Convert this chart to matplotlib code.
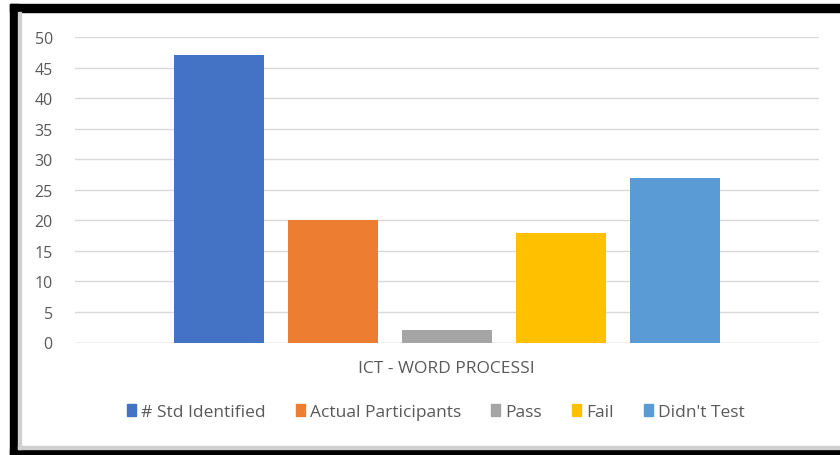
import matplotlib
matplotlib.use('Agg')
import matplotlib.pyplot as plt
import matplotlib.patches as mpatches

plt.rcParams['font.family'] = ['Open Sans', 'DejaVu Sans']

# Data
category = 'ICT - WORD PROCESSI'
series = ['# Std Identified', 'Actual Participants', 'Pass', 'Fail', "Didn't Test"]
values = [47, 20, 2, 18, 27]
colors = ['#4472C4', '#ED7D31', '#A5A5A5', '#FFC000', '#5B9BD5']
yticks = [0, 5, 10, 15, 20, 25, 30, 35, 40, 45, 50]

W, H = 840, 456
fig = plt.figure(figsize=(W / 100, H / 100), dpi=100)
fig.patch.set_facecolor('white')

# axes placed in pixel terms
ax = fig.add_axes([75 / W, 1 - 343.5 / H, (819 - 75) / W, (343.5 - 38) / H])
ax.set_facecolor('white')

x = list(range(len(series)))
ax.bar(x, values, width=0.79, color=colors, zorder=3)
ax.set_xlim(-1.263, 5.263)
ax.set_ylim(0, 50)
ax.set_yticks(yticks)
ax.set_xticks([])
ax.grid(axis='y', color='#D9D9D9', linewidth=1.0, zorder=0)
for s in ax.spines.values():
    s.set_visible(False)
ax.axhline(0, color='#D9D9D9', linewidth=1.0, zorder=2)
ax.tick_params(axis='y', length=0, pad=16, labelsize=11.5, labelcolor='#595959')

# category label
fig.text(446 / W, 1 - 369 / H, category, ha='center', va='center',
         fontsize=12.5, color='#595959')

# legend
handles = [mpatches.Patch(color=c, label=s) for s, c in zip(series, colors)]
leg = fig.legend(handles=handles, loc='center', bbox_to_anchor=(436 / W, 1 - 413 / H),
                 ncol=5, frameon=False, fontsize=12.5, handlelength=0.5,
                 handleheight=0.65, handletextpad=0.3, columnspacing=1.75,
                 labelcolor='#595959')

# black frame around the chart
frame = [
    (10, 5, 830, 8, 'black'),     # top
    (10, 5, 8, 451, 'black'),     # left
    (10, 450, 830, 6, 'black'),   # bottom
    (18, 13, 3, 437, '#D0D0D0'),  # inner grey left
    (18, 447, 822, 3, '#D0D0D0'), # inner grey bottom
]
for px, py, pw, ph, col in frame:
    fig.patches.append(mpatches.Rectangle((px / W, 1 - (py + ph) / H), pw / W, ph / H,
                                          transform=fig.transFigure, color=col,
                                          zorder=10))

fig.savefig('out.png', dpi=100, facecolor='white')
